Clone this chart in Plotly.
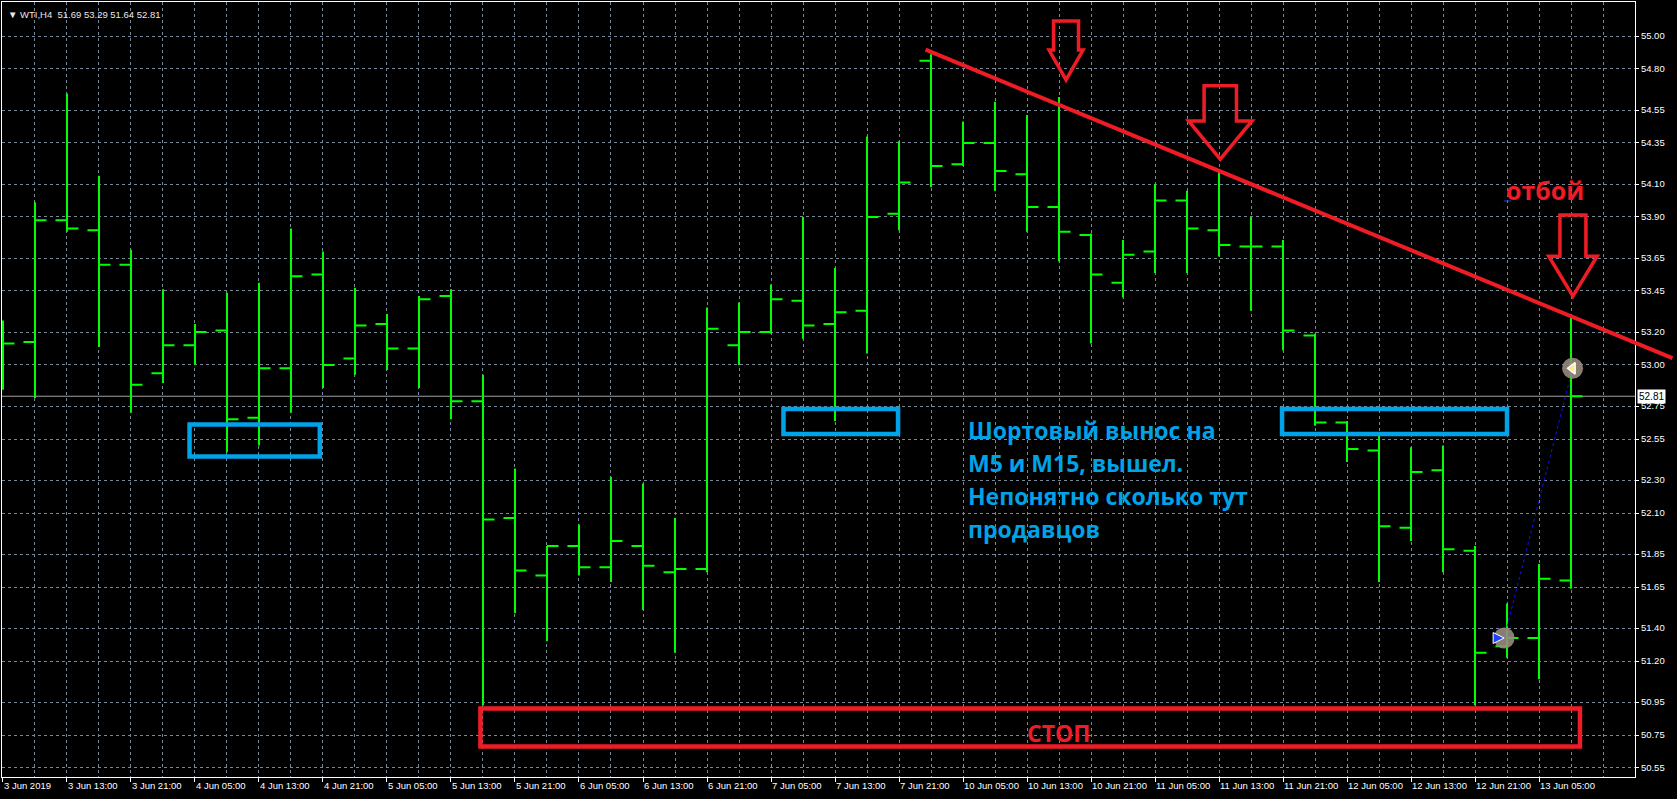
import plotly.graph_objects as go

# ---------------- data (WTI, H4) ----------------
bar_index = list(range(50))
opens = [53.15, 53.14, 53.88, 53.82, 53.61, 52.95, 53.12, 53.21, 52.68, 52.98,
         53.55, 53.04, 53.25, 53.10, 53.42, 52.78, 52.07, 51.72, 51.90, 51.77,
         51.90, 51.74, 51.76, 53.12, 53.20, 53.39, 53.25, 53.33, 53.92, 54.85,
         54.22, 54.35, 54.16, 53.96, 53.79, 53.50, 53.69, 54.00, 53.82, 53.72,
         53.72, 53.18, 52.65, 52.48, 52.01, 52.36, 51.87, 51.29, 51.34, 51.69]
highs = [53.27, 53.99, 54.65, 54.15, 53.70, 53.46, 53.25, 53.44, 53.50, 53.83,
         53.69, 53.47, 53.31, 53.42, 53.46, 52.94, 52.37, 51.90, 52.03, 52.32,
         52.28, 52.07, 53.35, 53.38, 53.49, 53.90, 53.59, 54.39, 54.36, 54.89,
         54.48, 54.60, 54.52, 54.63, 53.80, 53.76, 54.10, 54.06, 54.18, 53.90,
         53.76, 53.19, 52.66, 52.59, 52.50, 52.51, 51.90, 51.55, 51.79, 53.29]
lows = [52.85, 52.80, 53.81, 53.11, 52.71, 52.89, 53.00, 52.47, 52.51, 52.71,
        52.86, 52.94, 52.97, 52.86, 52.67, 50.93, 51.49, 51.32, 51.72, 51.68,
        51.51, 51.25, 51.74, 53.00, 53.19, 53.16, 52.66, 53.07, 53.82, 54.08,
        54.21, 54.06, 53.81, 53.63, 53.13, 53.41, 53.56, 53.56, 53.66, 53.33,
        53.09, 52.63, 52.41, 51.68, 51.93, 51.74, 50.93, 51.22, 51.09, 51.64]
closes = [53.13, 53.88, 53.83, 53.61, 52.88, 53.12, 53.20, 52.67, 52.98, 53.54,
          53.00, 53.24, 53.10, 53.40, 52.78, 52.06, 51.75, 51.90, 51.77, 51.93,
          51.78, 51.76, 53.22, 53.20, 53.40, 53.24, 53.32, 53.90, 54.11, 54.21,
          54.35, 54.18, 53.96, 53.81, 53.55, 53.67, 54.00, 53.83, 53.73, 53.72,
          53.21, 52.65, 52.49, 52.02, 52.35, 51.88, 51.25, 51.34, 51.70, 52.81]

x_tick_idx = list(range(0, 50, 2))
x_tick_text = ["3 Jun 2019", "3 Jun 13:00", "3 Jun 21:00", "4 Jun 05:00", "4 Jun 13:00",
               "4 Jun 21:00", "5 Jun 05:00", "5 Jun 13:00", "5 Jun 21:00", "6 Jun 05:00",
               "6 Jun 13:00", "6 Jun 21:00", "7 Jun 05:00", "7 Jun 13:00", "7 Jun 21:00",
               "10 Jun 05:00", "10 Jun 13:00", "10 Jun 21:00", "11 Jun 05:00", "11 Jun 13:00",
               "11 Jun 21:00", "12 Jun 05:00", "12 Jun 13:00", "12 Jun 21:00", "13 Jun 05:00"]
y_tick_vals = [55.00, 54.80, 54.55, 54.35, 54.10, 53.90, 53.65, 53.45, 53.20, 53.00, 52.75,
               52.55, 52.30, 52.10, 51.85, 51.65, 51.40, 51.20, 50.95, 50.75, 50.55]
last_price = 52.81

# trade (entry -> exit) markers
trade_x = [46.91, 49.05]
trade_y = [51.34, 52.98]

# ---------------- styling / layout constants ----------------
XR = [-0.031, 51.0]
YR = [50.495, 55.207]
GREEN = "#00ff00"
RED = "#ee1c25"
BLUE = "#00a2e8"
GRID = "#778899"
FONT = "Liberation Sans, Arial, sans-serif"
TFONT = "Open Sans, sans-serif"


def px(b):
    return (b - XR[0]) / (XR[1] - XR[0])


def py(p):
    return (p - YR[0]) / (YR[1] - YR[0])


fig = go.Figure()
fig.add_trace(go.Ohlc(
    x=bar_index, open=opens, high=highs, low=lows, close=closes,
    increasing=dict(line=dict(color=GREEN, width=2)),
    decreasing=dict(line=dict(color=GREEN, width=2)),
    tickwidth=0.36, hoverinfo="skip", showlegend=False,
))

# trade line and markers
fig.add_trace(go.Scatter(x=trade_x, y=trade_y, mode="lines",
                         line=dict(color="#1010ff", width=1, dash="dot"),
                         hoverinfo="skip", showlegend=False))
fig.add_trace(go.Scatter(x=trade_x, y=trade_y, mode="markers",
                         marker=dict(size=21, color="rgba(150,140,125,0.9)", line=dict(width=0)),
                         hoverinfo="skip", showlegend=False))
fig.add_trace(go.Scatter(x=[trade_x[0]], y=[trade_y[0]], mode="markers",
                         marker=dict(size=11, symbol="arrow-right", color="#2040ff",
                                     line=dict(color="white", width=1)),
                         hoverinfo="skip", showlegend=False))
fig.add_trace(go.Scatter(x=[trade_x[1]], y=[trade_y[1]], mode="markers",
                         marker=dict(size=10, symbol="triangle-left", color="#ffe680",
                                     line=dict(color="white", width=1.5)),
                         hoverinfo="skip", showlegend=False))

shapes = []
# current price line
shapes.append(dict(type="line", xref="paper", yref="y", x0=0, x1=1, y0=last_price, y1=last_price,
                   line=dict(color="#a0a0a0", width=1), layer="below"))

# trend line (extends over the price scale)
tl = [(28.83, 54.917), (52.17, 53.042)]
shapes.append(dict(type="line", xref="paper", yref="paper",
                   x0=px(tl[0][0]), y0=py(tl[0][1]), x1=px(tl[1][0]), y1=py(tl[1][1]),
                   line=dict(color=RED, width=4)))

# hollow down arrows: (center bar, top, neck, tip, shaft half-width, head half-width)
arrows = [(33.22, 55.091, 54.915, 54.733, 0.39, 0.53),
          (38.04, 54.698, 54.484, 54.251, 0.506, 0.99),
          (49.06, 53.912, 53.661, 53.419, 0.406, 0.756)]
for c, top, neck, tip, s, h in arrows:
    path = (f"M{px(c - s)},{py(top)} L{px(c - s)},{py(neck)} L{px(c - h)},{py(neck)} "
            f"L{px(c)},{py(tip)} L{px(c + h)},{py(neck)} L{px(c + s)},{py(neck)} "
            f"L{px(c + s)},{py(top)} Z")
    shapes.append(dict(type="path", xref="paper", yref="paper", path=path,
                       line=dict(color=RED, width=3.5), fillcolor="rgba(0,0,0,0)"))

# blue rectangles
for x0, x1, y0, y1 in [(5.83, 9.90, 52.444, 52.638),
                       (24.39, 27.97, 52.581, 52.733),
                       (39.97, 47.00, 52.581, 52.733)]:
    shapes.append(dict(type="rect", xref="x", yref="y", x0=x0, x1=x1, y0=y0, y1=y1,
                       line=dict(color=BLUE, width=4.5), fillcolor="rgba(0,0,0,0)"))

# red stop rectangle
shapes.append(dict(type="rect", xref="x", yref="y", x0=14.92, x1=49.28, y0=50.681, y1=50.912,
                   line=dict(color=RED, width=4.5), fillcolor="rgba(0,0,0,0)"))

# small blue dash near the text
shapes.append(dict(type="line", xref="x", yref="y", x0=46.9, x1=47.12, y0=53.997, y1=53.997,
                   line=dict(color="#2040ff", width=1)))

annotations = [
    dict(xref="paper", yref="paper", x=px(0.08), y=py(55.13), xanchor="left", yanchor="middle",
         text="\u25BC WTI,H4\u00a0\u00a051.69 53.29 51.64 52.81", showarrow=False,
         font=dict(family=FONT, size=9.5, color="#e8e8e8")),
    dict(xref="x", yref="y", x=32.97, y=50.76, xanchor="center", yanchor="middle",
         text="СТОП", showarrow=False,
         font=dict(family=TFONT, size=23, color=RED, weight="bold")),
    dict(xref="x", yref="y", x=48.2, y=54.065, xanchor="center", yanchor="middle",
         text="отбой", showarrow=False,
         font=dict(family=TFONT, size=25, color=RED, weight="bold")),
    dict(xref="paper", yref="y", x=1, y=last_price, xanchor="left", yanchor="middle", xshift=2,
         text="52.81", showarrow=False, bgcolor="white", borderpad=1,
         font=dict(family=FONT, size=10, color="black")),
]
note_lines = ["Шортовый вынос на", "М5 и М15, вышел.", "Непонятно сколько тут", "продавцов"]
note_y = [52.605, 52.405, 52.205, 52.005]
for t, yv in zip(note_lines, note_y):
    annotations.append(dict(xref="x", yref="y", x=30.1, y=yv, xanchor="left", yanchor="middle",
                            text=t, showarrow=False,
                            font=dict(family=TFONT, size=23, color=BLUE, weight="bold")))

fig.update_layout(
    width=1677, height=799,
    margin=dict(l=2, r=42, t=2, b=22, pad=0, autoexpand=False),
    paper_bgcolor="black", plot_bgcolor="black",
    showlegend=False,
    shapes=shapes, annotations=annotations,
    xaxis=dict(range=XR, rangeslider=dict(visible=False), tickmode="array",
               tickvals=x_tick_idx, ticktext=x_tick_text, ticklabelposition="outside right",
               tickangle=0, automargin=False,
               ticks="outside", ticklen=4, tickcolor="white",
               tickfont=dict(family=FONT, size=9.5, color="white"),
               showgrid=True, gridcolor=GRID, griddash="3px,3px", gridwidth=1,
               minor=dict(dtick=1, tick0=0, showgrid=True, gridcolor=GRID, griddash="3px,3px",
                          ticks=""),
               showline=True, linecolor="white", linewidth=1, mirror=True, zeroline=False,
               fixedrange=True),
    yaxis=dict(range=YR, side="right", tickmode="array", tickvals=y_tick_vals,
               ticktext=[f"{v:.2f}" for v in y_tick_vals], automargin=False,
               ticks="outside", ticklen=3, tickcolor="white",
               tickfont=dict(family=FONT, size=9.5, color="white"),
               showgrid=True, gridcolor=GRID, griddash="3px,3px", gridwidth=1,
               showline=True, linecolor="white", linewidth=1, mirror=True, zeroline=False,
               fixedrange=True),
)

fig.write_html("out.html")
